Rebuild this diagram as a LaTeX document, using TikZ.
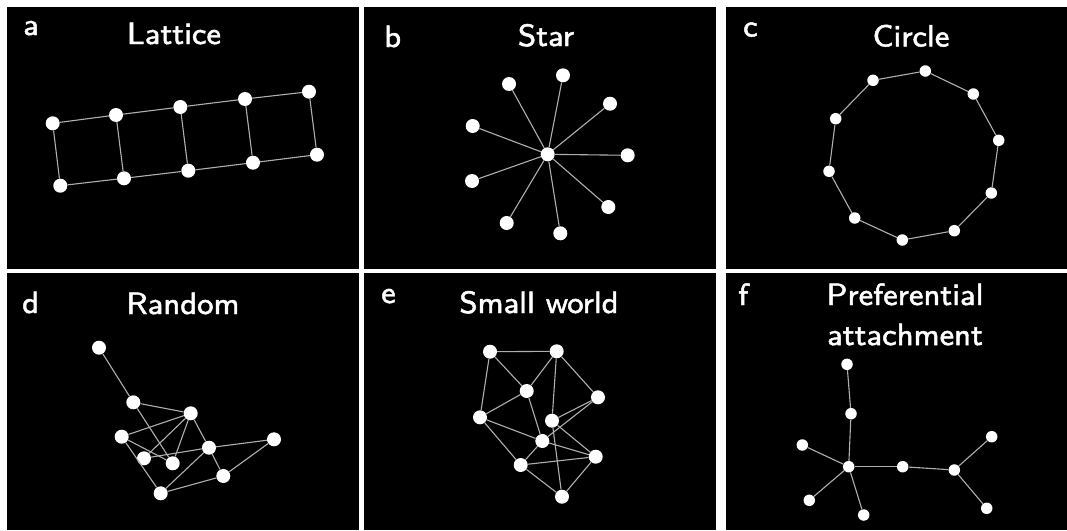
\documentclass[tikz,border=0pt]{standalone}
\usepackage{graphicx}
\usepackage{xcolor}
\definecolor{edgec}{RGB}{175,175,175}
\newcommand\thk[1]{\special{pdf:literal direct 2 Tr 0.12 w}#1\special{pdf:literal direct 0 Tr}}
\newcommand\ttl[1]{\scalebox{3.85}{\fontsize{8}{10.4}\selectfont\sffamily\thk{#1}}}
\begin{document}
\begin{tikzpicture}[x=1pt,y=-1pt,
  vtx/.style={circle,fill=white,inner sep=0pt,minimum size=14pt},
  svtx/.style={circle,fill=white,inner sep=0pt,minimum size=11.5pt},
  edge/.style={draw=edgec,line width=1.1pt},
  ttl/.style={text=white,anchor=base,inner sep=0pt},
  lbl/.style={text=white,anchor=base west,inner sep=0pt}]
\useasboundingbox (0,0) rectangle (1067,530);
\fill[white] (0,0) rectangle (1067,530);
% panels
\fill[black] (7,7) rectangle (359,269);
\fill[black] (364,7) rectangle (716,269);
\fill[black] (726,7) rectangle (1067,269);
\fill[black] (7,273) rectangle (359,530);
\fill[black] (364,273) rectangle (716,530);
\fill[black] (726,273) rectangle (1067,530);
% labels and titles
\node[lbl] (la) at (23,35) {\ttl{a}};
\node[ttl] (ta) at (174,44) {\ttl{Lattice}};
\node[lbl] (lb) at (384,47) {\ttl{b}};
\node[ttl] (tb) at (546,46) {\ttl{Star}};
\node[lbl] (lc) at (743,36.5) {\ttl{c}};
\node[ttl] (tc) at (911,46.5) {\ttl{Circle}};
\node[lbl] (ld) at (22,313) {\ttl{d}};
\node[ttl] (td) at (183,314) {\ttl{Random}};
\node[lbl] (le) at (381,303) {\ttl{e}};
\node[ttl] (te) at (539,313) {\ttl{Small world}};
\node[lbl] (lf) at (738,305) {\ttl{f}};
\node[ttl] (tf) at (905,305) {\ttl{\begin{tabular}[t]{@{}c@{}}Preferential\\attachment\end{tabular}}};
% a: lattice
\node[vtx] (a1) at (52.7,123.3) {};
\node[vtx] (a2) at (116,115) {};
\node[vtx] (a3) at (180.3,107) {};
\node[vtx] (a4) at (245,99) {};
\node[vtx] (a5) at (309,91.7) {};
\node[vtx] (a6) at (60.3,185.7) {};
\node[vtx] (a7) at (124,178.3) {};
\node[vtx] (a8) at (188.3,170.7) {};
\node[vtx] (a9) at (253,162.7) {};
\node[vtx] (a10) at (317,154.7) {};
\foreach \u/\v in {a1/a2,a2/a3,a3/a4,a4/a5,a6/a7,a7/a8,a8/a9,a9/a10,a1/a6,a2/a7,a3/a8,a4/a9,a5/a10}
  \draw[edge] (\u) -- (\v);
% b: star
\node[vtx] (b0) at (547.7,154.3) {};
\node[vtx] (b1) at (509,84) {};
\node[vtx] (b2) at (563,75.3) {};
\node[vtx] (b3) at (610,103.7) {};
\node[vtx] (b4) at (627.7,155.3) {};
\node[vtx] (b5) at (608.3,207) {};
\node[vtx] (b6) at (560.3,233.3) {};
\node[vtx] (b7) at (506.7,223) {};
\node[vtx] (b8) at (472,181) {};
\node[vtx] (b9) at (472.7,126) {};
\foreach \v in {b1,b2,b3,b4,b5,b6,b7,b8,b9}
  \draw[edge] (b0) -- (\v);
% c: circle
\node[svtx] (c1) at (925.3,71) {};
\node[svtx] (c2) at (973.3,94) {};
\node[svtx] (c3) at (998.7,140.3) {};
\node[svtx] (c4) at (991.3,193) {};
\node[svtx] (c5) at (954.3,230.7) {};
\node[svtx] (c6) at (902.3,240) {};
\node[svtx] (c7) at (854.7,218) {};
\node[svtx] (c8) at (829,171.3) {};
\node[svtx] (c9) at (835.7,118.7) {};
\node[svtx] (c10) at (873,80.3) {};
\foreach \u/\v in {c1/c2,c2/c3,c3/c4,c4/c5,c5/c6,c6/c7,c7/c8,c8/c9,c9/c10,c10/c1}
  \draw[edge] (\u) -- (\v);
% d: random
\node[vtx] (d1) at (99,347.7) {};
\node[vtx] (d2) at (133.3,402.3) {};
\node[vtx] (d3) at (190.7,413.3) {};
\node[vtx] (d4) at (121.7,436.7) {};
\node[vtx] (d5) at (209,447.7) {};
\node[vtx] (d6) at (274,439.3) {};
\node[vtx] (d7) at (144,458.3) {};
\node[vtx] (d8) at (172.7,463.3) {};
\node[vtx] (d9) at (223.3,476) {};
\node[vtx] (d10) at (160.7,493.3) {};
\foreach \u/\v in {d1/d2,d2/d3,d2/d8,d3/d4,d3/d7,d3/d8,d3/d5,d4/d8,d4/d10,d7/d5,d5/d6,d5/d9,d5/d10,d10/d9,d9/d6}
  \draw[edge] (\u) -- (\v);
% e: small world
\node[vtx] (eA) at (490,351.7) {};
\node[vtx] (eB) at (556.7,351.3) {};
\node[vtx] (eC) at (526.7,391) {};
\node[vtx] (eD) at (598,397.3) {};
\node[vtx] (eE) at (480,417.3) {};
\node[vtx] (eF) at (552,420.7) {};
\node[vtx] (eG) at (542.3,441) {};
\node[vtx] (eH) at (595.7,456.7) {};
\node[vtx] (eI) at (520.7,465) {};
\node[vtx] (eJ) at (562,496.7) {};
\foreach \u/\v in {eA/eB,eA/eC,eA/eE,eB/eC,eB/eD,eB/eF,eC/eE,eC/eG,eD/eF,eD/eG,eE/eG,eE/eI,eF/eH,eF/eJ,eG/eH,eG/eI,eI/eH,eI/eJ,eH/eJ}
  \draw[edge] (\u) -- (\v);
% f: preferential attachment
\node[svtx] (f1) at (847,364.3) {};
\node[svtx] (f2) at (851,413.7) {};
\node[svtx] (f3) at (802.3,445) {};
\node[svtx] (f4) at (848.7,466.7) {};
\node[svtx] (f5) at (902.7,466.7) {};
\node[svtx] (f6) at (954.3,470) {};
\node[svtx] (f7) at (991.7,436.7) {};
\node[svtx] (f8) at (809.3,500.3) {};
\node[svtx] (f9) at (863.7,515) {};
\node[svtx] (f10) at (986.7,508.3) {};
\foreach \u/\v in {f1/f2,f2/f4,f3/f4,f4/f5,f5/f6,f6/f7,f6/f10,f4/f8,f4/f9}
  \draw[edge] (\u) -- (\v);
\end{tikzpicture}
\end{document}
